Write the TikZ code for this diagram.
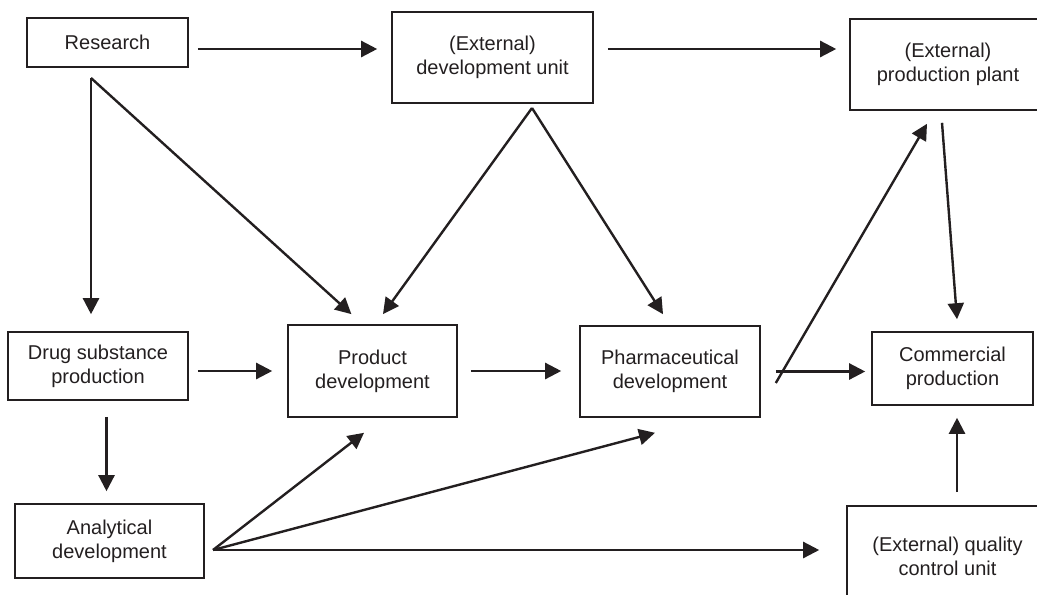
\documentclass[tikz,border=0pt]{standalone}
\usepackage{fontspec}
\setmainfont{Liberation Sans}
\definecolor{Ink}{RGB}{35, 31, 32}
\usetikzlibrary{arrows.meta}

\begin{document}
\begin{tikzpicture}[
    x=0.5pt, y=-0.5pt,
    every node/.style={font=\fontsize{10}{12}\selectfont, align=center, text=Ink},
    box/.style={draw=Ink, line width=0.8pt, inner sep=0pt},
    arr/.style={draw=Ink, line width=1.2pt, -{Triangle[length=8pt, width=8pt]}}
]
\useasboundingbox (0,0) rectangle (1037,594);
\clip (0,0) rectangle (1037,594);

\node[box, minimum width=80.5pt, minimum height=24.5pt] (research) at (107.5,42.5) {Research};
\node[box, minimum width=100.5pt, minimum height=45.5pt] (extdev) at (492.5,57.5) {(External)\\development unit};
\node[box, minimum width=98pt, minimum height=45.5pt] (plant) at (948,64.5) {(External)\\production plant};
\node[box, minimum width=90pt, minimum height=34pt] (drug) at (98,366) {Drug substance\\production};
\node[box, minimum width=84.5pt, minimum height=46pt] (product) at (372.5,371) {Product\\development};
\node[box, minimum width=90pt, minimum height=45.5pt] (pharma) at (670,371.5) {Pharmaceutical\\development};
\node[box, minimum width=80.5pt, minimum height=36.5pt] (commercial) at (952.5,368.5) {Commercial\\production};
\node[box, minimum width=94.5pt, minimum height=37pt] (analytical) at (109.5,541) {Analytical\\development};
\node[box, minimum width=100.5pt, minimum height=50pt] (qc) at (947.5,556) {(External) quality\\control unit};

\coordinate (rout) at ([yshift=-3.25pt]research.east);
\coordinate (rsplit) at (91,78);
\coordinate (esplit) at (532,108);
\coordinate (asplit) at (213,550);

\draw[arr, shorten <=4.5pt, shorten >=7pt] (rout) -- (rout -| extdev.west);
\draw[arr, shorten <=7pt, shorten >=6.5pt] (rout -| extdev.east) -- (rout -| plant.west);
\draw[arr, shorten >=8.5pt] (rsplit) -- (rsplit |- drug.north);
\draw[arr, shorten >=7.5pt] (rsplit) -- ([xshift=-5pt]product.north);
\draw[arr, shorten >=6.2pt] (esplit) -- ([xshift=1.6pt]product.north);
\draw[arr, shorten >=6.5pt] (esplit) -- (pharma.north);
\draw[arr, shorten <=4.5pt, shorten >=7.5pt] (drug.east |- product.west) -- (product.west);
\draw[arr, shorten <=6.5pt, shorten >=9pt] (product.east) -- (product.east -| pharma.west);
\draw[arr, shorten <=7.5pt, shorten >=3pt] (pharma.east) -- (pharma.east -| commercial.west);
\draw[arr] ([xshift=7.5pt, yshift=-5.75pt]pharma.east) -- ([xshift=-10.5pt, yshift=-6.5pt]plant.south);
\draw[arr] ([xshift=-3pt, yshift=-6pt]plant.south) -- ([xshift=2.25pt, yshift=6pt]commercial.north);
\draw[arr] ([xshift=4.25pt, yshift=-8pt]drug.south) -- ([xshift=-1.5pt, yshift=6pt]analytical.north);
\draw[arr] (asplit) -- ([xshift=-4.25pt, yshift=-7.5pt]product.south);
\draw[arr] (asplit) -- ([xshift=-7.5pt, yshift=-7.5pt]pharma.south);
\draw[arr, shorten >=13.5pt] (asplit) -- (asplit -| qc.west);
\draw[arr] ([xshift=4.75pt, yshift=6.5pt]qc.north) -- ([xshift=2.25pt, yshift=-6pt]commercial.south);
\end{tikzpicture}
\end{document}
